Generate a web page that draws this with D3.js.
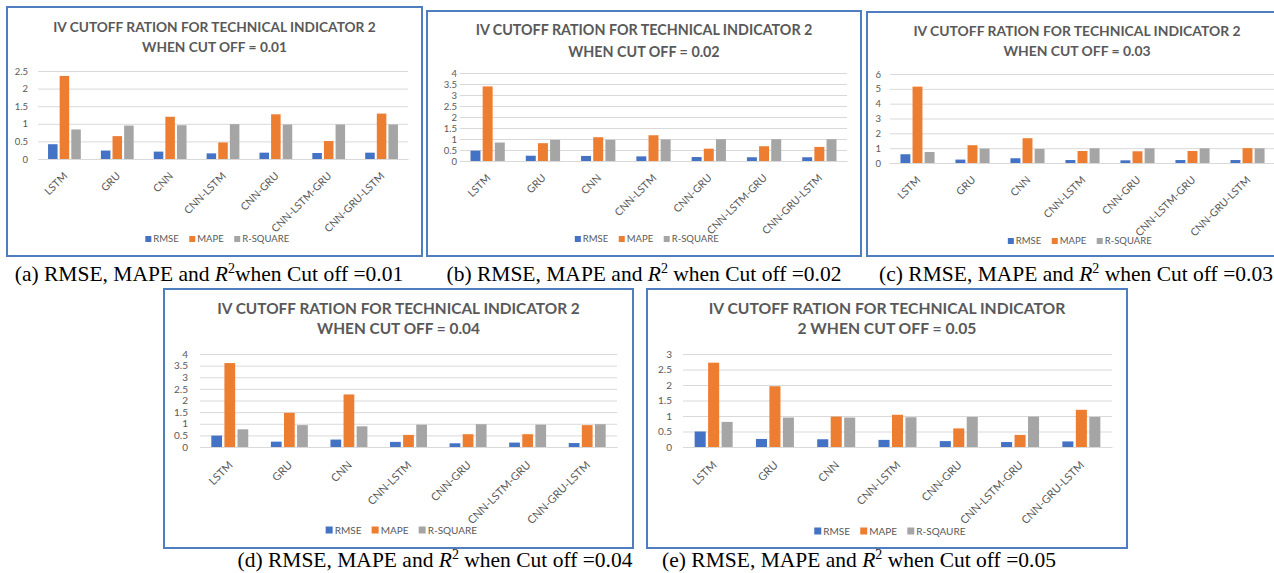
<!DOCTYPE html>
<html>
<head>
<meta charset="utf-8">
<script src="https://cdn.jsdelivr.net/npm/d3@7"></script>
<style>
  body { margin: 0; background: #fff; }
  svg { display: block; }
</style>
</head>
<body>
<div id="chart"></div>
<script>
var categories = ["LSTM", "GRU", "CNN", "CNN-LSTM", "CNN-GRU", "CNN-LSTM-GRU", "CNN-GRU-LSTM"];
var seriesNames = ["RMSE", "MAPE", "R-SQUARE"];
var seriesNamesE = ["RMSE", "MAPE", "R-SQAURE"];   // typo as in the figure
var cutoffs = ["0.01", "0.02", "0.03", "0.04", "0.05"];
var letters = ["a", "b", "c", "d", "e"];

var rmse01 = [0.42, 0.24, 0.21, 0.16, 0.18, 0.17, 0.18];
var mape01 = [2.36, 0.65, 1.20, 0.47, 1.27, 0.51, 1.29];
var rsq01  = [0.84, 0.95, 0.96, 0.99, 0.98, 0.98, 0.98];

var rmse02 = [0.47, 0.24, 0.23, 0.21, 0.18, 0.17, 0.17];
var mape02 = [3.39, 0.81, 1.08, 1.17, 0.56, 0.67, 0.64];
var rsq02  = [0.84, 0.96, 0.96, 0.98, 0.99, 0.99, 0.99];

var rmse03 = [0.59, 0.23, 0.32, 0.20, 0.18, 0.20, 0.20];
var mape03 = [5.15, 1.20, 1.67, 0.81, 0.79, 0.81, 1.00];
var rsq03  = [0.74, 0.97, 0.95, 0.99, 0.99, 0.99, 0.99];

var rmse04 = [0.49, 0.23, 0.32, 0.22, 0.16, 0.19, 0.17];
var mape04 = [3.61, 1.47, 2.26, 0.52, 0.55, 0.55, 0.94];
var rsq04  = [0.76, 0.94, 0.89, 0.96, 0.98, 0.96, 0.98];

var rmse05 = [0.50, 0.26, 0.25, 0.23, 0.19, 0.16, 0.18];
var mape05 = [2.72, 1.96, 0.98, 1.04, 0.60, 0.39, 1.20];
var rsq05  = [0.81, 0.95, 0.95, 0.96, 0.97, 0.98, 0.97];

var ticks01 = [0, 0.5, 1, 1.5, 2, 2.5];
var ticks02 = [0, 0.5, 1, 1.5, 2, 2.5, 3, 3.5, 4];
var ticks03 = [0, 1, 2, 3, 4, 5, 6];
var ticks04 = [0, 0.5, 1, 1.5, 2, 2.5, 3, 3.5, 4];
var ticks05 = [0, 0.5, 1, 1.5, 2, 2.5, 3];

var colors = ["#4472C4", "#ED7D31", "#A5A5A5"];

// where each small chart sits on the page
var panels = [
  {series: [rmse01, mape01, rsq01], ticks: ticks01, names: seriesNames,
   bx: 7, by: 7, bw: 415, bh: 249, x0: 38, x1: 408, yTop: 71, y0: 159, tpad: 10,
   t1: 32, t2: 52, tfs: 13.7, title: ["IV CUTOFF RATION FOR TECHNICAL INDICATOR 2", "WHEN CUT OFF = 0.01"],
   leg: 239, fs: 9.5, lfs: 10.5, lab: "translate(1,15)", sq: 6, cx: 209, cy: 281, gap: ""},
  {series: [rmse02, mape02, rsq02], ticks: ticks02, names: seriesNames,
   bx: 427, by: 11, bw: 434, bh: 245, x0: 460, x1: 847, yTop: 73, y0: 161, tpad: 3,
   t1: 35, t2: 57, tfs: 14.3, title: ["IV CUTOFF RATION FOR TECHNICAL INDICATOR 2", "WHEN CUT OFF = 0.02"],
   leg: 239, fs: 9.5, lfs: 10.5, lab: "translate(1,15)", sq: 6, cx: 644, cy: 281, gap: " "},
  {series: [rmse03, mape03, rsq03], ticks: ticks03, names: seriesNames,
   bx: 867, by: 12, bw: 420, bh: 244, x0: 890, x1: 1275, yTop: 74, y0: 163, tpad: 9,
   t1: 36, t2: 56, tfs: 13.9, title: ["IV CUTOFF RATION FOR TECHNICAL INDICATOR 2", "WHEN CUT OFF = 0.03"],
   leg: 241, fs: 9.5, lfs: 10.5, lab: "translate(1,15)", sq: 6, cx: 1076, cy: 281, gap: " "},
  {series: [rmse04, mape04, rsq04], ticks: ticks04, names: seriesNames,
   bx: 164, by: 289, bw: 469, bh: 259, x0: 200, x1: 617, yTop: 354, y0: 447, tpad: 12,
   t1: 314, t2: 334, tfs: 15.4, title: ["IV CUTOFF RATION FOR TECHNICAL INDICATOR 2", "WHEN CUT OFF = 0.04"],
   leg: 530, fs: 10, lfs: 11, lab: "translate(1,16)", sq: 7, cx: 435, cy: 567, gap: " "},
  {series: [rmse05, mape05, rsq05], ticks: ticks05, names: seriesNamesE,
   bx: 647, by: 289, bw: 480, bh: 259, x0: 683, x1: 1112, yTop: 354, y0: 447, tpad: 11,
   t1: 314, t2: 334, tfs: 15.7, title: ["IV CUTOFF RATION FOR TECHNICAL INDICATOR", "2 WHEN CUT OFF = 0.05"],
   leg: 531, fs: 10, lfs: 11, lab: "translate(1,16)", sq: 7, cx: 859, cy: 567, gap: " "}
];

var svg = d3.select("#chart").append("svg")
    .attr("width", 1274)
    .attr("height", 573)
    .style("font-family", "Lato, 'Open Sans', sans-serif");

panels.forEach(function(p, i) {
  var g = svg.append("g");

  g.append("rect")
    .attr("x", p.bx).attr("y", p.by)
    .attr("width", p.bw).attr("height", p.bh)
    .attr("fill", "#fff")
    .attr("stroke", "#4F7EC0")
    .attr("stroke-width", 2);

  // title
  g.selectAll(".title").data(p.title).enter().append("text")
    .attr("class", "title")
    .attr("x", p.bx + p.bw / 2)
    .attr("y", function(d, k) { return k == 0 ? p.t1 : p.t2; })
    .attr("text-anchor", "middle")
    .attr("font-size", p.tfs)
    .attr("font-weight", "bold")
    .attr("fill", "#595959")
    .text(function(d) { return d; });

  var x = d3.scaleBand().domain(categories).range([p.x0, p.x1]);
  var step = x.bandwidth();
  var xs = d3.scaleBand().domain([0, 1, 2])
      .range([0.19 * step, 0.81 * step])
      .paddingInner(0.18);
  var y = d3.scaleLinear().domain([0, d3.max(p.ticks)]).range([p.y0, p.yTop]);

  var yAxis = d3.axisLeft(y)
      .tickValues(p.ticks)
      .tickSize(-(p.x1 - p.x0))
      .tickPadding(p.tpad)
      .tickFormat(function(d) { return String(d); });

  var ya = g.append("g")
      .attr("transform", "translate(" + p.x0 + ",0)")
      .call(yAxis);
  ya.select(".domain").remove();
  ya.selectAll(".tick line").attr("stroke", "#D9D9D9");
  ya.selectAll(".tick text")
    .attr("fill", "#595959")
    .attr("font-size", p.fs)
    .attr("font-family", "Lato, sans-serif");

  // bars
  p.series.forEach(function(vals, s) {
    g.selectAll(".bar" + s)
      .data(categories.map(function(c, k) { return {cat: c, v: vals[k]}; }))
      .enter().append("rect")
      .attr("class", "bar" + s)
      .attr("x", function(d) { return x(d.cat) + xs(s); })
      .attr("width", xs.bandwidth())
      .attr("y", function(d) { return y(d.v); })
      .attr("height", function(d) { return p.y0 - y(d.v); })
      .attr("fill", colors[s]);
  });

  var xAxis = d3.axisBottom(x).tickSize(0).tickPadding(0);
  var xa = g.append("g")
      .attr("transform", "translate(0," + p.y0 + ")")
      .call(xAxis);
  xa.select(".domain").attr("stroke", "#D9D9D9");
  xa.selectAll(".tick text")
    .attr("fill", "#595959")
    .attr("font-size", p.lfs)
    .attr("font-family", "Lato, sans-serif")
    .attr("text-anchor", "end")
    .attr("dy", "0.35em")
    .attr("transform", p.lab + " rotate(-45)");

  // legend, centred under the chart
  var leg = g.append("g");
  var items = leg.selectAll(".li").data(p.names).enter().append("g").attr("class", "li");
  items.append("rect")
    .attr("width", p.sq).attr("height", p.sq)
    .attr("y", -p.sq / 2)
    .attr("fill", function(d, k) { return colors[k]; });
  items.append("text")
    .attr("x", p.sq + 2)
    .attr("dy", "0.35em")
    .attr("font-size", p.fs)
    .attr("fill", "#595959")
    .text(function(d) { return d; });
  var pos = 0;
  items.each(function() {
    var w = this.getBBox().width;
    d3.select(this).attr("transform", "translate(" + pos + ",0)");
    pos += w + 10;
  });
  pos -= 10;
  leg.attr("transform", "translate(" + (p.bx + p.bw / 2 + 3 - pos / 2) + "," + p.leg + ")");

  // caption below the box
  var cap = svg.append("text")
    .attr("x", p.cx).attr("y", p.cy)
    .attr("text-anchor", "middle")
    .attr("font-family", "'Liberation Serif', 'Times New Roman', serif")
    .attr("font-size", 21.5)
    .attr("fill", "#000");
  cap.append("tspan").text("(" + letters[i] + ") RMSE, MAPE and ");
  cap.append("tspan").attr("font-style", "italic").text("R");
  cap.append("tspan").attr("font-size", 14).attr("dy", -8).text("2");
  cap.append("tspan").attr("dy", 8).text(p.gap + "when Cut off =" + cutoffs[i]);
});
</script>
</body>
</html>
